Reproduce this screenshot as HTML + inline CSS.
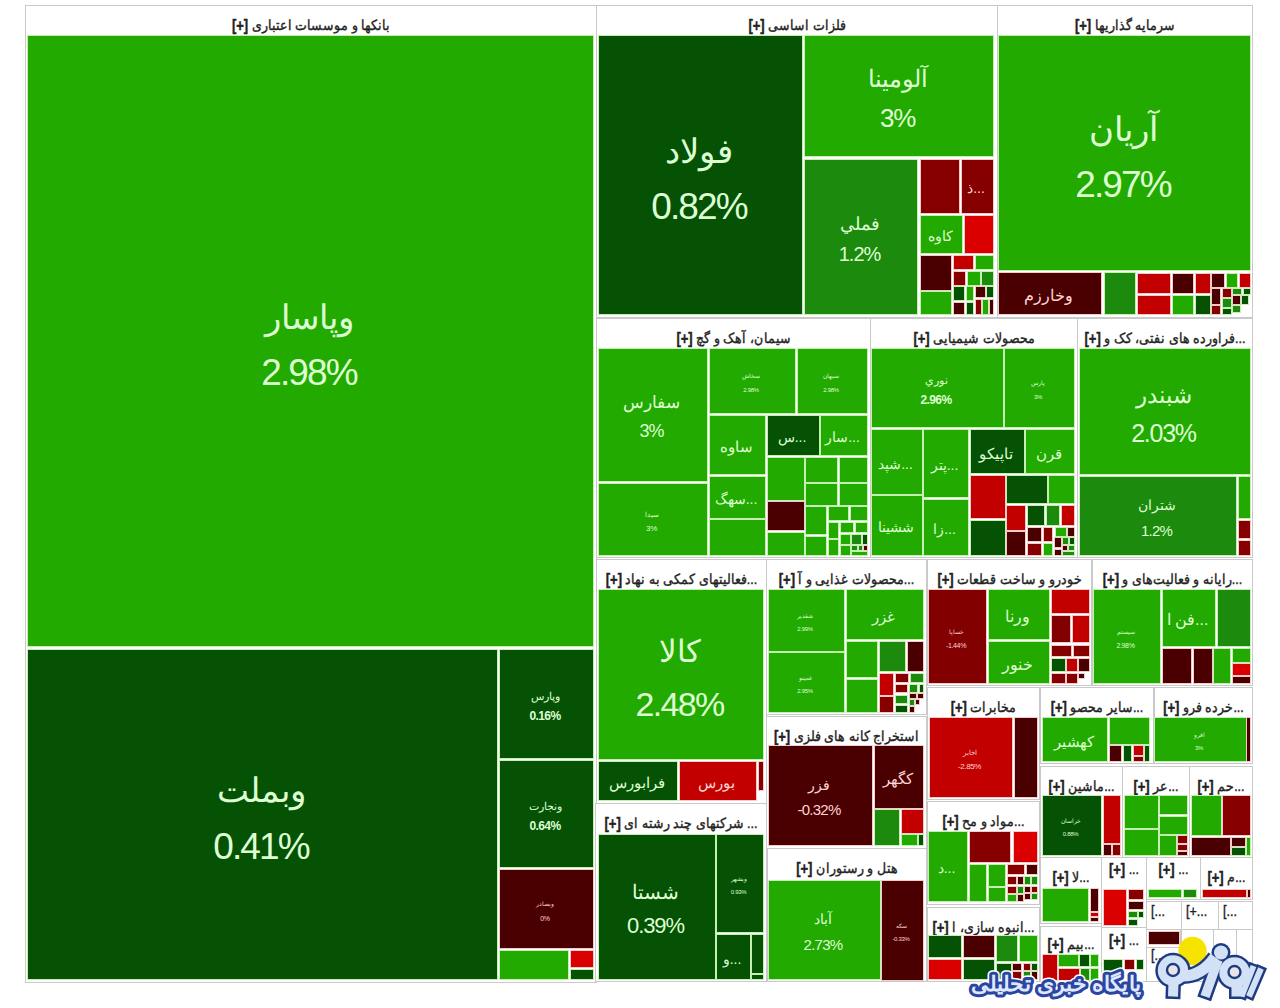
<!DOCTYPE html>
<html><head><meta charset="utf-8"><title>Market Map</title>
<style>
html,body{margin:0;padding:0;background:#fff;}
body{width:1280px;height:1008px;position:relative;overflow:hidden;font-family:"Liberation Sans",sans-serif;}
.s{position:absolute;box-sizing:border-box;border:1px solid #c9c9c9;background:#fff;}
.h{position:absolute;left:0;right:0;top:0;height:30px;display:flex;align-items:flex-end;justify-content:center;white-space:nowrap;overflow:hidden;font-size:12px;font-weight:normal;color:#222;direction:rtl;}
.h i{font-style:normal;display:block;line-height:14px;padding-bottom:2px;font-size:12.5px;transform:scaleY(1.12);transform-origin:50% 100%;-webkit-text-stroke:0.35px #222;}
.h b{display:inline-block;transform:scaleY(1.12);font-size:13px;}
.h b{font-weight:bold;direction:ltr;unicode-bidi:isolate;}
.c{position:absolute;overflow:hidden;white-space:nowrap;}
.c span{position:absolute;left:-20px;right:-20px;text-align:center;line-height:1;}
.c .p{letter-spacing:-0.05em;}
</style></head><body>

<div class="s" style="left:25px;top:5px;width:572px;height:978px"><div class="h" style=""><i>بانکها و موسسات اعتباری <b>[+]</b></i></div></div>
<div class="s" style="left:596px;top:5px;width:402px;height:313px"><div class="h" style=""><i>فلزات اساسی <b>[+]</b></i></div></div>
<div class="s" style="left:997px;top:5px;width:256px;height:313px"><div class="h" style=""><i>سرمایه گذاریها <b>[+]</b></i></div></div>
<div class="s" style="left:596px;top:318px;width:275px;height:240px"><div class="h" style=""><i>سیمان، آهک و گچ <b>[+]</b></i></div></div>
<div class="s" style="left:870px;top:318px;width:208px;height:240px"><div class="h" style=""><i>محصولات شیمیایی <b>[+]</b></i></div></div>
<div class="s" style="left:1077px;top:318px;width:176px;height:240px"><div class="h" style=""><i>...فراورده های نفتی، کک و <b>[+]</b></i></div></div>
<div class="s" style="left:596px;top:559px;width:171px;height:245px"><div class="h" style=""><i>...فعالیتهای کمکی به نهاد <b>[+]</b></i></div></div>
<div class="s" style="left:766px;top:559px;width:161px;height:156px"><div class="h" style=""><i>...محصولات غذایی و آ <b>[+]</b></i></div></div>
<div class="s" style="left:927px;top:559px;width:165px;height:127px"><div class="h" style=""><i>خودرو و ساخت قطعات <b>[+]</b></i></div></div>
<div class="s" style="left:1092px;top:559px;width:161px;height:127px"><div class="h" style=""><i>...رایانه و فعالیت‌های و <b>[+]</b></i></div></div>
<div class="s" style="left:927px;top:687px;width:113px;height:113px"><div class="h" style=""><i>مخابرات <b>[+]</b></i></div></div>
<div class="s" style="left:1040px;top:687px;width:114px;height:77px"><div class="h" style=""><i>...سایر محصو <b>[+]</b></i></div></div>
<div class="s" style="left:1154px;top:687px;width:99px;height:77px"><div class="h" style=""><i>...خرده فرو <b>[+]</b></i></div></div>
<div class="s" style="left:766px;top:716px;width:161px;height:133px"><div class="h" style=""><i>استخراج کانه های فلزی <b>[+]</b></i></div></div>
<div class="s" style="left:595px;top:803px;width:172px;height:179px"><div class="h" style=""><i>... شرکتهای چند رشته ای <b>[+]</b></i></div></div>
<div class="s" style="left:767px;top:848px;width:160px;height:134px"><div class="h" style=""><i>هتل و رستوران <b>[+]</b></i></div></div>
<div class="s" style="left:927px;top:801px;width:113px;height:104px"><div class="h" style=""><i>...مواد و مح <b>[+]</b></i></div></div>
<div class="s" style="left:1040px;top:766px;width:83px;height:92px"><div class="h" style=""><i>...ماشین <b>[+]</b></i></div></div>
<div class="s" style="left:1122px;top:766px;width:68px;height:92px"><div class="h" style=""><i>...عر <b>[+]</b></i></div></div>
<div class="s" style="left:1189px;top:766px;width:64px;height:92px"><div class="h" style=""><i>...حم <b>[+]</b></i></div></div>
<div class="s" style="left:927px;top:907px;width:113px;height:75px"><div class="h" style=""><i>...انبوه سازی، ا <b>[+]</b></i></div></div>
<div class="s" style="left:1040px;top:857px;width:62px;height:67px"><div class="h" style=""><i>...لا <b>[+]</b></i></div></div>
<div class="s" style="left:1101px;top:857px;width:46px;height:71px"><div class="h" style="top:-8px;"><i>... <b>[+]</b></i></div></div>
<div class="s" style="left:1146px;top:857px;width:55px;height:43px"><div class="h" style="top:-8px;"><i>... <b>[+]</b></i></div></div>
<div class="s" style="left:1200px;top:857px;width:53px;height:43px"><div class="h" style=""><i>...م <b>[+]</b></i></div></div>
<div class="s" style="left:1040px;top:926px;width:62px;height:56px"><div class="h" style="top:-2px;"><i>...بیم <b>[+]</b></i></div></div>
<div class="s" style="left:1101px;top:927px;width:46px;height:55px"><div class="h" style="top:-7px;"><i>... <b>[+]</b></i></div></div>
<div class="s" style="left:1146px;top:901px;width:36px;height:29px"><div class="h" style="top:-10px;direction:ltr;justify-content:flex-start;padding-left:4px"><i>[...</i></div></div>
<div class="s" style="left:1181px;top:901px;width:38px;height:29px"><div class="h" style="top:-10px;direction:ltr;justify-content:flex-start;padding-left:4px"><i>[+...</i></div></div>
<div class="s" style="left:1218px;top:901px;width:35px;height:29px"><div class="h" style="top:-10px;direction:ltr;justify-content:flex-start;padding-left:4px"><i>[...</i></div></div>
<div class="s" style="left:1146px;top:929px;width:35px;height:19px"></div>
<div class="s" style="left:1146px;top:947px;width:35px;height:35px"><div class="h" style="top:-12px;direction:ltr;justify-content:flex-start;padding-left:4px"><i>[...</i></div></div>
<div class="s" style="left:1181px;top:929px;width:33px;height:53px"></div>
<div class="s" style="left:1213px;top:929px;width:24px;height:53px"></div>
<div class="s" style="left:1236px;top:929px;width:17px;height:53px"></div>
<div class="c" style="left:28px;top:36px;width:565px;height:610px;background:#22aa00;color:#ddffd2;box-shadow:0 0 0 1px #c4f0b4;"><span class="n" style="font-size:34.0px;top:263.6px;left:-23px">وپاسار</span><span class="p" style="font-size:37px;top:318.3px;left:-23px">2.98%</span></div>
<div class="c" style="left:28px;top:650px;width:469px;height:329px;background:#055205;color:#ddffd2;box-shadow:0 0 0 1px #c4f0b4;"><span class="n" style="font-size:34.0px;top:123.1px;left:-23px">وبملت</span><span class="p" style="font-size:37px;top:177.8px;left:-23px">0.41%</span></div>
<div class="c" style="left:500px;top:650px;width:93px;height:108px;background:#055205;color:#ddffd2;box-shadow:0 0 0 1px #c4f0b4;"><span class="n" style="font-size:11.0px;top:40.6px;left:-23px">وپارس</span><span class="p" style="font-size:12px;top:60.3px;left:-23px;font-weight:bold">0.16%</span></div>
<div class="c" style="left:500px;top:761px;width:93px;height:106px;background:#055205;color:#ddffd2;box-shadow:0 0 0 1px #c4f0b4;"><span class="n" style="font-size:11.0px;top:39.6px;left:-23px">ونجارت</span><span class="p" style="font-size:12px;top:59.3px;left:-23px;font-weight:bold">0.64%</span></div>
<div class="c" style="left:500px;top:870px;width:93px;height:78px;background:#4a0000;color:#ffd4d4;box-shadow:0 0 0 1px #f4caca;"><span class="n" style="font-size:6.4px;top:31.2px;left:-23px">وبصادر</span><span class="p" style="font-size:7px;top:44.8px;left:-23px">0%</span></div>
<div class="c" style="left:500px;top:951px;width:68px;height:28px;background:#22aa00;color:#ddffd2;box-shadow:0 0 0 1px #c4f0b4;"></div>
<div class="c" style="left:571px;top:951px;width:22px;height:16px;background:#da0000;color:#ffd4d4;box-shadow:0 0 0 1px #f4caca;"></div>
<div class="c" style="left:571px;top:970px;width:22px;height:9px;background:#055205;color:#ddffd2;box-shadow:0 0 0 1px #c4f0b4;"></div>
<div class="c" style="left:599px;top:36px;width:203px;height:278px;background:#055205;color:#ddffd2;box-shadow:0 0 0 1px #c4f0b4;"><span class="n" style="font-size:34.0px;top:97.6px;left:-23px">فولاد</span><span class="p" style="font-size:37px;top:152.3px;left:-23px">0.82%</span></div>
<div class="c" style="left:805px;top:36px;width:188px;height:120px;background:#22aa00;color:#ddffd2;box-shadow:0 0 0 1px #c4f0b4;"><span class="n" style="font-size:23.9px;top:30.9px;left:-23px">آلومینا</span><span class="p" style="font-size:26px;top:69.4px;left:-23px">3%</span></div>
<div class="c" style="left:805px;top:160px;width:112px;height:154px;background:#1c8a0c;color:#ddffd2;box-shadow:0 0 0 1px #c4f0b4;"><span class="n" style="font-size:18.4px;top:54.6px;left:-23px">فملي</span><span class="p" style="font-size:20px;top:84.2px;left:-23px">1.2%</span></div>
<div class="c" style="left:921px;top:160px;width:38px;height:53px;background:#860000;color:#ffd4d4;box-shadow:0 0 0 1px #f4caca;"></div>
<div class="c" style="left:962px;top:160px;width:31px;height:53px;background:#860000;color:#ffd4d4;box-shadow:0 0 0 1px #f4caca;"><span class="n" style="font-size:14.0px;top:21.3px;left:-23px">ذ...</span></div>
<div class="c" style="left:921px;top:216px;width:41px;height:37px;background:#22aa00;color:#ddffd2;box-shadow:0 0 0 1px #c4f0b4;"><span class="n" style="font-size:14.0px;top:13.3px;left:-23px">کاوه</span></div>
<div class="c" style="left:965px;top:216px;width:28px;height:37px;background:#da0000;color:#ffd4d4;box-shadow:0 0 0 1px #f4caca;"></div>
<div class="c" style="left:921px;top:256px;width:30px;height:34px;background:#4a0000;color:#ffd4d4;box-shadow:0 0 0 1px #f4caca;"></div>
<div class="c" style="left:921px;top:292px;width:30px;height:22px;background:#22aa00;color:#ddffd2;box-shadow:0 0 0 1px #c4f0b4;"></div>
<div class="c" style="left:954px;top:256px;width:19px;height:13px;background:#c20000;color:#ffd4d4;box-shadow:0 0 0 1px #f4caca;"></div>
<div class="c" style="left:976px;top:256px;width:17px;height:13px;background:#22aa00;color:#ddffd2;box-shadow:0 0 0 1px #c4f0b4;"></div>
<div class="c" style="left:954px;top:272px;width:11px;height:13px;background:#860000;color:#ffd4d4;box-shadow:0 0 0 1px #f4caca;"></div>
<div class="c" style="left:968px;top:272px;width:12px;height:13px;background:#22aa00;color:#ddffd2;box-shadow:0 0 0 1px #c4f0b4;"></div>
<div class="c" style="left:982px;top:272px;width:11px;height:13px;background:#1c8a0c;color:#ddffd2;box-shadow:0 0 0 1px #c4f0b4;"></div>
<div class="c" style="left:954px;top:287px;width:10px;height:13px;background:#055205;color:#ddffd2;box-shadow:0 0 0 1px #c4f0b4;"></div>
<div class="c" style="left:967px;top:287px;width:6px;height:13px;background:#22aa00;color:#ddffd2;box-shadow:0 0 0 1px #c4f0b4;"></div>
<div class="c" style="left:976px;top:287px;width:9px;height:10px;background:#4a0000;color:#ffd4d4;box-shadow:0 0 0 1px #f4caca;"></div>
<div class="c" style="left:987px;top:287px;width:6px;height:10px;background:#055205;color:#ddffd2;box-shadow:0 0 0 1px #c4f0b4;"></div>
<div class="c" style="left:954px;top:303px;width:10px;height:11px;background:#4a0000;color:#ffd4d4;box-shadow:0 0 0 1px #f4caca;"></div>
<div class="c" style="left:967px;top:303px;width:6px;height:11px;background:#055205;color:#ddffd2;box-shadow:0 0 0 1px #c4f0b4;"></div>
<div class="c" style="left:976px;top:300px;width:5px;height:14px;background:#860000;color:#ffd4d4;box-shadow:0 0 0 1px #f4caca;"></div>
<div class="c" style="left:983px;top:300px;width:5px;height:14px;background:#22aa00;color:#ddffd2;box-shadow:0 0 0 1px #c4f0b4;"></div>
<div class="c" style="left:990px;top:300px;width:3px;height:14px;background:#4a0000;color:#ffd4d4;box-shadow:0 0 0 1px #f4caca;"></div>
<div class="c" style="left:999px;top:36px;width:251px;height:234px;background:#22aa00;color:#ddffd2;box-shadow:0 0 0 1px #c4f0b4;"><span class="n" style="font-size:34.0px;top:75.6px;left:-23px">آریان</span><span class="p" style="font-size:37px;top:130.3px;left:-23px">2.97%</span></div>
<div class="c" style="left:999px;top:273px;width:102px;height:41px;background:#4a0000;color:#ffd4d4;box-shadow:0 0 0 1px #f4caca;"><span class="n" style="font-size:16.0px;top:14.6px;left:-23px">وخارزم</span></div>
<div class="c" style="left:1105px;top:273px;width:30px;height:41px;background:#1c8a0c;color:#ddffd2;box-shadow:0 0 0 1px #c4f0b4;"></div>
<div class="c" style="left:1138px;top:274px;width:32px;height:19px;background:#c20000;color:#ffd4d4;box-shadow:0 0 0 1px #f4caca;"></div>
<div class="c" style="left:1138px;top:296px;width:32px;height:18px;background:#c20000;color:#ffd4d4;box-shadow:0 0 0 1px #f4caca;"></div>
<div class="c" style="left:1173px;top:274px;width:20px;height:19px;background:#4a0000;color:#ffd4d4;box-shadow:0 0 0 1px #f4caca;"></div>
<div class="c" style="left:1173px;top:296px;width:20px;height:18px;background:#22aa00;color:#ddffd2;box-shadow:0 0 0 1px #c4f0b4;"></div>
<div class="c" style="left:1196px;top:274px;width:14px;height:19px;background:#c20000;color:#ffd4d4;box-shadow:0 0 0 1px #f4caca;"></div>
<div class="c" style="left:1196px;top:296px;width:14px;height:18px;background:#055205;color:#ddffd2;box-shadow:0 0 0 1px #c4f0b4;"></div>
<div class="c" style="left:1212px;top:274px;width:12px;height:13px;background:#4a0000;color:#ffd4d4;box-shadow:0 0 0 1px #f4caca;"></div>
<div class="c" style="left:1227px;top:274px;width:10px;height:13px;background:#22aa00;color:#ddffd2;box-shadow:0 0 0 1px #c4f0b4;"></div>
<div class="c" style="left:1240px;top:274px;width:10px;height:13px;background:#c20000;color:#ffd4d4;box-shadow:0 0 0 1px #f4caca;"></div>
<div class="c" style="left:1212px;top:289px;width:8px;height:15px;background:#4a0000;color:#ffd4d4;box-shadow:0 0 0 1px #f4caca;"></div>
<div class="c" style="left:1212px;top:306px;width:8px;height:8px;background:#860000;color:#ffd4d4;box-shadow:0 0 0 1px #f4caca;"></div>
<div class="c" style="left:1223px;top:289px;width:8px;height:8px;background:#860000;color:#ffd4d4;box-shadow:0 0 0 1px #f4caca;"></div>
<div class="c" style="left:1233px;top:289px;width:8px;height:5px;background:#1c8a0c;color:#ddffd2;box-shadow:0 0 0 1px #c4f0b4;"></div>
<div class="c" style="left:1244px;top:289px;width:6px;height:5px;background:#055205;color:#ddffd2;box-shadow:0 0 0 1px #c4f0b4;"></div>
<div class="c" style="left:1223px;top:299px;width:8px;height:8px;background:#1c8a0c;color:#ddffd2;box-shadow:0 0 0 1px #c4f0b4;"></div>
<div class="c" style="left:1223px;top:309px;width:8px;height:5px;background:#055205;color:#ddffd2;box-shadow:0 0 0 1px #c4f0b4;"></div>
<div class="c" style="left:1233px;top:296px;width:7px;height:8px;background:#4a0000;color:#ffd4d4;box-shadow:0 0 0 1px #f4caca;"></div>
<div class="c" style="left:1242px;top:296px;width:6px;height:8px;background:#055205;color:#ddffd2;box-shadow:0 0 0 1px #c4f0b4;"></div>
<div class="c" style="left:1233px;top:306px;width:7px;height:6px;background:#1c8a0c;color:#ddffd2;box-shadow:0 0 0 1px #c4f0b4;"></div>
<div class="c" style="left:599px;top:349px;width:108px;height:132px;background:#22aa00;color:#ddffd2;box-shadow:0 0 0 1px #c4f0b4;"><span class="n" style="font-size:16.6px;top:45.8px;left:-23px">سفارس</span><span class="p" style="font-size:18px;top:73.0px;left:-23px">3%</span></div>
<div class="c" style="left:599px;top:484px;width:108px;height:71px;background:#22aa00;color:#ddffd2;box-shadow:0 0 0 1px #c4f0b4;"><span class="n" style="font-size:7.4px;top:26.5px;left:-23px">سیدا</span><span class="p" style="font-size:8px;top:41.4px;left:-23px">3%</span></div>
<div class="c" style="left:710px;top:349px;width:85px;height:64px;background:#22aa00;color:#ddffd2;box-shadow:0 0 0 1px #c4f0b4;"><span class="n" style="font-size:5.5px;top:25.3px;left:-23px">سخاش</span><span class="p" style="font-size:6px;top:37.7px;left:-23px">2.98%</span></div>
<div class="c" style="left:798px;top:349px;width:69px;height:64px;background:#22aa00;color:#ddffd2;box-shadow:0 0 0 1px #c4f0b4;"><span class="n" style="font-size:5.5px;top:25.3px;left:-23px">سبهان</span><span class="p" style="font-size:6px;top:37.7px;left:-23px">2.98%</span></div>
<div class="c" style="left:710px;top:416px;width:55px;height:58px;background:#22aa00;color:#ddffd2;box-shadow:0 0 0 1px #c4f0b4;"><span class="n" style="font-size:15.0px;top:23.4px;left:-23px">ساوه</span></div>
<div class="c" style="left:710px;top:477px;width:55px;height:41px;background:#22aa00;color:#ddffd2;box-shadow:0 0 0 1px #c4f0b4;"><span class="n" style="font-size:14.0px;top:15.3px;left:-23px">سهگ...</span></div>
<div class="c" style="left:710px;top:520px;width:55px;height:35px;background:#22aa00;color:#ddffd2;box-shadow:0 0 0 1px #c4f0b4;"></div>
<div class="c" style="left:768px;top:416px;width:51px;height:39px;background:#055205;color:#ddffd2;box-shadow:0 0 0 1px #c4f0b4;"><span class="n" style="font-size:14.0px;top:14.3px;left:-23px">س...</span></div>
<div class="c" style="left:821px;top:416px;width:46px;height:39px;background:#22aa00;color:#ddffd2;box-shadow:0 0 0 1px #c4f0b4;"><span class="n" style="font-size:14.0px;top:14.3px;left:-23px">سار...</span></div>
<div class="c" style="left:768px;top:458px;width:36px;height:42px;background:#22aa00;color:#ddffd2;box-shadow:0 0 0 1px #c4f0b4;"></div>
<div class="c" style="left:768px;top:502px;width:36px;height:28px;background:#4a0000;color:#ffd4d4;box-shadow:0 0 0 1px #f4caca;"></div>
<div class="c" style="left:768px;top:533px;width:36px;height:22px;background:#22aa00;color:#ddffd2;box-shadow:0 0 0 1px #c4f0b4;"></div>
<div class="c" style="left:806px;top:458px;width:31px;height:24px;background:#22aa00;color:#ddffd2;box-shadow:0 0 0 1px #c4f0b4;"></div>
<div class="c" style="left:840px;top:458px;width:27px;height:24px;background:#22aa00;color:#ddffd2;box-shadow:0 0 0 1px #c4f0b4;"></div>
<div class="c" style="left:806px;top:484px;width:31px;height:21px;background:#22aa00;color:#ddffd2;box-shadow:0 0 0 1px #c4f0b4;"></div>
<div class="c" style="left:840px;top:484px;width:27px;height:21px;background:#22aa00;color:#ddffd2;box-shadow:0 0 0 1px #c4f0b4;"></div>
<div class="c" style="left:806px;top:507px;width:20px;height:27px;background:#22aa00;color:#ddffd2;box-shadow:0 0 0 1px #c4f0b4;"></div>
<div class="c" style="left:806px;top:537px;width:20px;height:18px;background:#22aa00;color:#ddffd2;box-shadow:0 0 0 1px #c4f0b4;"></div>
<div class="c" style="left:829px;top:507px;width:19px;height:13px;background:#22aa00;color:#ddffd2;box-shadow:0 0 0 1px #c4f0b4;"></div>
<div class="c" style="left:851px;top:507px;width:16px;height:13px;background:#22aa00;color:#ddffd2;box-shadow:0 0 0 1px #c4f0b4;"></div>
<div class="c" style="left:829px;top:523px;width:9px;height:15px;background:#22aa00;color:#ddffd2;box-shadow:0 0 0 1px #c4f0b4;"></div>
<div class="c" style="left:829px;top:540px;width:9px;height:15px;background:#22aa00;color:#ddffd2;box-shadow:0 0 0 1px #c4f0b4;"></div>
<div class="c" style="left:841px;top:523px;width:12px;height:9px;background:#22aa00;color:#ddffd2;box-shadow:0 0 0 1px #c4f0b4;"></div>
<div class="c" style="left:856px;top:523px;width:11px;height:9px;background:#22aa00;color:#ddffd2;box-shadow:0 0 0 1px #c4f0b4;"></div>
<div class="c" style="left:841px;top:535px;width:9px;height:9px;background:#22aa00;color:#ddffd2;box-shadow:0 0 0 1px #c4f0b4;"></div>
<div class="c" style="left:852px;top:535px;width:9px;height:9px;background:#1c8a0c;color:#ddffd2;box-shadow:0 0 0 1px #c4f0b4;"></div>
<div class="c" style="left:863px;top:535px;width:4px;height:9px;background:#055205;color:#ddffd2;box-shadow:0 0 0 1px #c4f0b4;"></div>
<div class="c" style="left:841px;top:546px;width:9px;height:9px;background:#22aa00;color:#ddffd2;box-shadow:0 0 0 1px #c4f0b4;"></div>
<div class="c" style="left:852px;top:546px;width:5px;height:4px;background:#1c8a0c;color:#ddffd2;box-shadow:0 0 0 1px #c4f0b4;"></div>
<div class="c" style="left:859px;top:546px;width:3px;height:4px;background:#1c8a0c;color:#ddffd2;box-shadow:0 0 0 1px #c4f0b4;"></div>
<div class="c" style="left:864px;top:546px;width:3px;height:4px;background:#4a0000;color:#ffd4d4;box-shadow:0 0 0 1px #f4caca;"></div>
<div class="c" style="left:852px;top:552px;width:15px;height:3px;background:#22aa00;color:#ddffd2;box-shadow:0 0 0 1px #c4f0b4;"></div>
<div class="c" style="left:872px;top:349px;width:131px;height:78px;background:#22aa00;color:#ddffd2;box-shadow:0 0 0 1px #c4f0b4;"><span class="n" style="font-size:11.0px;top:25.6px;left:-23px">نوري</span><span class="p" style="font-size:12px;top:45.3px;left:-23px;font-weight:bold">2.96%</span></div>
<div class="c" style="left:1005px;top:349px;width:69px;height:78px;background:#22aa00;color:#ddffd2;box-shadow:0 0 0 1px #c4f0b4;"><span class="n" style="font-size:5.5px;top:32.3px;left:-23px">پارس</span><span class="p" style="font-size:6px;top:44.7px;left:-23px">3%</span></div>
<div class="c" style="left:872px;top:430px;width:50px;height:64px;background:#22aa00;color:#ddffd2;box-shadow:0 0 0 1px #c4f0b4;"><span class="n" style="font-size:14.0px;top:26.8px;left:-23px">شپد...</span></div>
<div class="c" style="left:872px;top:496px;width:50px;height:59px;background:#22aa00;color:#ddffd2;box-shadow:0 0 0 1px #c4f0b4;"><span class="n" style="font-size:14.0px;top:24.3px;left:-23px">ششینا</span></div>
<div class="c" style="left:924px;top:430px;width:44px;height:67px;background:#22aa00;color:#ddffd2;box-shadow:0 0 0 1px #c4f0b4;"><span class="n" style="font-size:14.0px;top:28.3px;left:-23px">پتر...</span></div>
<div class="c" style="left:924px;top:500px;width:44px;height:55px;background:#22aa00;color:#ddffd2;box-shadow:0 0 0 1px #c4f0b4;"><span class="n" style="font-size:14.0px;top:22.3px;left:-23px">زا...</span></div>
<div class="c" style="left:971px;top:430px;width:53px;height:43px;background:#055205;color:#ddffd2;box-shadow:0 0 0 1px #c4f0b4;"><span class="n" style="font-size:15.0px;top:15.9px;left:-23px">تاپیکو</span></div>
<div class="c" style="left:1026px;top:430px;width:48px;height:43px;background:#22aa00;color:#ddffd2;box-shadow:0 0 0 1px #c4f0b4;"><span class="n" style="font-size:15.0px;top:15.9px;left:-23px">قرن</span></div>
<div class="c" style="left:971px;top:476px;width:34px;height:42px;background:#c20000;color:#ffd4d4;box-shadow:0 0 0 1px #f4caca;"></div>
<div class="c" style="left:971px;top:521px;width:34px;height:34px;background:#055205;color:#ddffd2;box-shadow:0 0 0 1px #c4f0b4;"></div>
<div class="c" style="left:1007px;top:476px;width:40px;height:27px;background:#055205;color:#ddffd2;box-shadow:0 0 0 1px #c4f0b4;"></div>
<div class="c" style="left:1049px;top:476px;width:25px;height:27px;background:#22aa00;color:#ddffd2;box-shadow:0 0 0 1px #c4f0b4;"></div>
<div class="c" style="left:1007px;top:506px;width:18px;height:24px;background:#c20000;color:#ffd4d4;box-shadow:0 0 0 1px #f4caca;"></div>
<div class="c" style="left:1007px;top:532px;width:18px;height:23px;background:#4a0000;color:#ffd4d4;box-shadow:0 0 0 1px #f4caca;"></div>
<div class="c" style="left:1028px;top:506px;width:16px;height:19px;background:#055205;color:#ddffd2;box-shadow:0 0 0 1px #c4f0b4;"></div>
<div class="c" style="left:1047px;top:506px;width:12px;height:19px;background:#1c8a0c;color:#ddffd2;box-shadow:0 0 0 1px #c4f0b4;"></div>
<div class="c" style="left:1062px;top:506px;width:12px;height:19px;background:#c20000;color:#ffd4d4;box-shadow:0 0 0 1px #f4caca;"></div>
<div class="c" style="left:1028px;top:528px;width:13px;height:13px;background:#4a0000;color:#ffd4d4;box-shadow:0 0 0 1px #f4caca;"></div>
<div class="c" style="left:1044px;top:528px;width:8px;height:13px;background:#860000;color:#ffd4d4;box-shadow:0 0 0 1px #f4caca;"></div>
<div class="c" style="left:1056px;top:528px;width:10px;height:8px;background:#22aa00;color:#ddffd2;box-shadow:0 0 0 1px #c4f0b4;"></div>
<div class="c" style="left:1068px;top:528px;width:6px;height:8px;background:#4a0000;color:#ffd4d4;box-shadow:0 0 0 1px #f4caca;"></div>
<div class="c" style="left:1028px;top:544px;width:13px;height:11px;background:#860000;color:#ffd4d4;box-shadow:0 0 0 1px #f4caca;"></div>
<div class="c" style="left:1044px;top:544px;width:8px;height:11px;background:#22aa00;color:#ddffd2;box-shadow:0 0 0 1px #c4f0b4;"></div>
<div class="c" style="left:1055px;top:538px;width:6px;height:9px;background:#4a0000;color:#ffd4d4;box-shadow:0 0 0 1px #f4caca;"></div>
<div class="c" style="left:1055px;top:550px;width:6px;height:5px;background:#4a0000;color:#ffd4d4;box-shadow:0 0 0 1px #f4caca;"></div>
<div class="c" style="left:1063px;top:538px;width:5px;height:6px;background:#1c8a0c;color:#ddffd2;box-shadow:0 0 0 1px #c4f0b4;"></div>
<div class="c" style="left:1070px;top:538px;width:4px;height:6px;background:#055205;color:#ddffd2;box-shadow:0 0 0 1px #c4f0b4;"></div>
<div class="c" style="left:1063px;top:546px;width:4px;height:4px;background:#4a0000;color:#ffd4d4;box-shadow:0 0 0 1px #f4caca;"></div>
<div class="c" style="left:1069px;top:546px;width:5px;height:4px;background:#1c8a0c;color:#ddffd2;box-shadow:0 0 0 1px #c4f0b4;"></div>
<div class="c" style="left:1063px;top:552px;width:11px;height:3px;background:#1c8a0c;color:#ddffd2;box-shadow:0 0 0 1px #c4f0b4;"></div>
<div class="c" style="left:1080px;top:349px;width:170px;height:125px;background:#22aa00;color:#ddffd2;box-shadow:0 0 0 1px #c4f0b4;"><span class="n" style="font-size:23.0px;top:34.5px;left:-23px">شبندر</span><span class="p" style="font-size:25px;top:71.5px;left:-23px">2.03%</span></div>
<div class="c" style="left:1080px;top:477px;width:156px;height:78px;background:#1c8a0c;color:#ddffd2;box-shadow:0 0 0 1px #c4f0b4;"><span class="n" style="font-size:13.8px;top:22.2px;left:-23px">شتران</span><span class="p" style="font-size:15px;top:45.6px;left:-23px">1.2%</span></div>
<div class="c" style="left:1239px;top:477px;width:11px;height:41px;background:#22aa00;color:#ddffd2;box-shadow:0 0 0 1px #c4f0b4;"></div>
<div class="c" style="left:1239px;top:521px;width:11px;height:17px;background:#860000;color:#ffd4d4;box-shadow:0 0 0 1px #f4caca;"></div>
<div class="c" style="left:1239px;top:541px;width:11px;height:14px;background:#860000;color:#ffd4d4;box-shadow:0 0 0 1px #f4caca;"></div>
<div class="c" style="left:599px;top:590px;width:164px;height:169px;background:#22aa00;color:#ddffd2;box-shadow:0 0 0 1px #c4f0b4;"><span class="n" style="font-size:31.3px;top:46.4px;left:-23px">کالا</span><span class="p" style="font-size:34px;top:96.7px;left:-23px">2.48%</span></div>
<div class="c" style="left:599px;top:762px;width:78px;height:38px;background:#055205;color:#ddffd2;box-shadow:0 0 0 1px #c4f0b4;"><span class="n" style="font-size:15.0px;top:13.4px;left:-23px">فرابورس</span></div>
<div class="c" style="left:680px;top:762px;width:76px;height:38px;background:#c20000;color:#ffd4d4;box-shadow:0 0 0 1px #f4caca;"><span class="n" style="font-size:15.0px;top:13.4px;left:-23px">بورس</span></div>
<div class="c" style="left:759px;top:762px;width:4px;height:28px;background:#860000;color:#ffd4d4;box-shadow:0 0 0 1px #f4caca;"></div>
<div class="c" style="left:769px;top:590px;width:75px;height:61px;background:#22aa00;color:#ddffd2;box-shadow:0 0 0 1px #c4f0b4;"><span class="n" style="font-size:5.5px;top:23.8px;left:-23px">شقدیر</span><span class="p" style="font-size:6px;top:36.2px;left:-23px">2.99%</span></div>
<div class="c" style="left:769px;top:653px;width:75px;height:59px;background:#22aa00;color:#ddffd2;box-shadow:0 0 0 1px #c4f0b4;"><span class="n" style="font-size:5.5px;top:22.8px;left:-23px">غمینو</span><span class="p" style="font-size:6px;top:35.2px;left:-23px">2.95%</span></div>
<div class="c" style="left:847px;top:590px;width:76px;height:49px;background:#22aa00;color:#ddffd2;box-shadow:0 0 0 1px #c4f0b4;"><span class="n" style="font-size:15.0px;top:18.9px;left:-23px">غزر</span></div>
<div class="c" style="left:847px;top:642px;width:30px;height:35px;background:#22aa00;color:#ddffd2;box-shadow:0 0 0 1px #c4f0b4;"></div>
<div class="c" style="left:847px;top:680px;width:30px;height:32px;background:#22aa00;color:#ddffd2;box-shadow:0 0 0 1px #c4f0b4;"></div>
<div class="c" style="left:880px;top:642px;width:25px;height:29px;background:#1c8a0c;color:#ddffd2;box-shadow:0 0 0 1px #c4f0b4;"></div>
<div class="c" style="left:908px;top:642px;width:15px;height:29px;background:#4a0000;color:#ffd4d4;box-shadow:0 0 0 1px #f4caca;"></div>
<div class="c" style="left:880px;top:674px;width:13px;height:21px;background:#c20000;color:#ffd4d4;box-shadow:0 0 0 1px #f4caca;"></div>
<div class="c" style="left:880px;top:697px;width:13px;height:15px;background:#860000;color:#ffd4d4;box-shadow:0 0 0 1px #f4caca;"></div>
<div class="c" style="left:896px;top:674px;width:12px;height:8px;background:#860000;color:#ffd4d4;box-shadow:0 0 0 1px #f4caca;"></div>
<div class="c" style="left:911px;top:674px;width:12px;height:8px;background:#1c8a0c;color:#ddffd2;box-shadow:0 0 0 1px #c4f0b4;"></div>
<div class="c" style="left:896px;top:685px;width:11px;height:7px;background:#860000;color:#ffd4d4;box-shadow:0 0 0 1px #f4caca;"></div>
<div class="c" style="left:910px;top:685px;width:7px;height:7px;background:#1c8a0c;color:#ddffd2;box-shadow:0 0 0 1px #c4f0b4;"></div>
<div class="c" style="left:920px;top:685px;width:3px;height:7px;background:#055205;color:#ddffd2;box-shadow:0 0 0 1px #c4f0b4;"></div>
<div class="c" style="left:896px;top:696px;width:11px;height:7px;background:#1c8a0c;color:#ddffd2;box-shadow:0 0 0 1px #c4f0b4;"></div>
<div class="c" style="left:896px;top:706px;width:11px;height:6px;background:#055205;color:#ddffd2;box-shadow:0 0 0 1px #c4f0b4;"></div>
<div class="c" style="left:910px;top:694px;width:6px;height:4px;background:#4a0000;color:#ffd4d4;box-shadow:0 0 0 1px #f4caca;"></div>
<div class="c" style="left:918px;top:694px;width:5px;height:4px;background:#4a0000;color:#ffd4d4;box-shadow:0 0 0 1px #f4caca;"></div>
<div class="c" style="left:910px;top:700px;width:4px;height:5px;background:#1c8a0c;color:#ddffd2;box-shadow:0 0 0 1px #c4f0b4;"></div>
<div class="c" style="left:916px;top:700px;width:3px;height:4px;background:#4a0000;color:#ffd4d4;box-shadow:0 0 0 1px #f4caca;"></div>
<div class="c" style="left:910px;top:707px;width:4px;height:5px;background:#4a0000;color:#ffd4d4;box-shadow:0 0 0 1px #f4caca;"></div>
<div class="c" style="left:769px;top:746px;width:103px;height:99px;background:#4a0000;color:#ffd4d4;box-shadow:0 0 0 1px #f4caca;"><span class="n" style="font-size:13.8px;top:32.7px;left:-23px">فزر</span><span class="p" style="font-size:15px;top:56.1px;left:-23px">-0.32%</span></div>
<div class="c" style="left:875px;top:746px;width:48px;height:62px;background:#4a0000;color:#ffd4d4;box-shadow:0 0 0 1px #f4caca;"><span class="n" style="font-size:15.0px;top:25.4px;left:-23px">کگهر</span></div>
<div class="c" style="left:875px;top:810px;width:24px;height:35px;background:#1c8a0c;color:#ddffd2;box-shadow:0 0 0 1px #c4f0b4;"></div>
<div class="c" style="left:902px;top:810px;width:21px;height:23px;background:#c20000;color:#ffd4d4;box-shadow:0 0 0 1px #f4caca;"></div>
<div class="c" style="left:902px;top:835px;width:15px;height:10px;background:#22aa00;color:#ddffd2;box-shadow:0 0 0 1px #c4f0b4;"></div>
<div class="c" style="left:919px;top:835px;width:4px;height:10px;background:#055205;color:#ddffd2;box-shadow:0 0 0 1px #c4f0b4;"></div>
<div class="c" style="left:929px;top:590px;width:57px;height:93px;background:#820000;color:#ffd4d4;box-shadow:0 0 0 1px #f4caca;"><span class="n" style="font-size:6.4px;top:38.7px;left:-23px">خساپا</span><span class="p" style="font-size:7px;top:52.3px;left:-23px">-1.44%</span></div>
<div class="c" style="left:989px;top:590px;width:60px;height:49px;background:#22aa00;color:#ddffd2;box-shadow:0 0 0 1px #c4f0b4;"><span class="n" style="font-size:16.0px;top:18.6px;left:-23px">ورنا</span></div>
<div class="c" style="left:989px;top:642px;width:60px;height:41px;background:#22aa00;color:#ddffd2;box-shadow:0 0 0 1px #c4f0b4;"><span class="n" style="font-size:16.0px;top:14.6px;left:-23px">خنور</span></div>
<div class="c" style="left:1052px;top:590px;width:37px;height:23px;background:#c20000;color:#ffd4d4;box-shadow:0 0 0 1px #f4caca;"></div>
<div class="c" style="left:1052px;top:616px;width:18px;height:26px;background:#820000;color:#ffd4d4;box-shadow:0 0 0 1px #f4caca;"></div>
<div class="c" style="left:1073px;top:616px;width:16px;height:26px;background:#c20000;color:#ffd4d4;box-shadow:0 0 0 1px #f4caca;"></div>
<div class="c" style="left:1052px;top:646px;width:19px;height:10px;background:#860000;color:#ffd4d4;box-shadow:0 0 0 1px #f4caca;"></div>
<div class="c" style="left:1074px;top:646px;width:15px;height:10px;background:#860000;color:#ffd4d4;box-shadow:0 0 0 1px #f4caca;"></div>
<div class="c" style="left:1052px;top:659px;width:13px;height:12px;background:#055205;color:#ddffd2;box-shadow:0 0 0 1px #c4f0b4;"></div>
<div class="c" style="left:1067px;top:659px;width:10px;height:12px;background:#c20000;color:#ffd4d4;box-shadow:0 0 0 1px #f4caca;"></div>
<div class="c" style="left:1079px;top:659px;width:10px;height:12px;background:#4a0000;color:#ffd4d4;box-shadow:0 0 0 1px #f4caca;"></div>
<div class="c" style="left:1052px;top:674px;width:13px;height:9px;background:#860000;color:#ffd4d4;box-shadow:0 0 0 1px #f4caca;"></div>
<div class="c" style="left:1067px;top:674px;width:10px;height:9px;background:#860000;color:#ffd4d4;box-shadow:0 0 0 1px #f4caca;"></div>
<div class="c" style="left:1079px;top:674px;width:5px;height:4px;background:#4a0000;color:#ffd4d4;box-shadow:0 0 0 1px #f4caca;"></div>
<div class="c" style="left:1094px;top:590px;width:66px;height:93px;background:#22aa00;color:#ddffd2;box-shadow:0 0 0 1px #c4f0b4;"><span class="n" style="font-size:6.4px;top:38.7px;left:-23px">سیستم</span><span class="p" style="font-size:7px;top:52.3px;left:-23px">2.98%</span></div>
<div class="c" style="left:1163px;top:590px;width:52px;height:56px;background:#22aa00;color:#ddffd2;box-shadow:0 0 0 1px #c4f0b4;"><span class="n" style="font-size:16.0px;top:22.1px;left:-23px">فن ا...</span></div>
<div class="c" style="left:1218px;top:590px;width:32px;height:56px;background:#1c8a0c;color:#ddffd2;box-shadow:0 0 0 1px #c4f0b4;"></div>
<div class="c" style="left:1163px;top:649px;width:28px;height:34px;background:#4a0000;color:#ffd4d4;box-shadow:0 0 0 1px #f4caca;"></div>
<div class="c" style="left:1194px;top:649px;width:18px;height:34px;background:#4a0000;color:#ffd4d4;box-shadow:0 0 0 1px #f4caca;"></div>
<div class="c" style="left:1214px;top:649px;width:16px;height:34px;background:#22aa00;color:#ddffd2;box-shadow:0 0 0 1px #c4f0b4;"></div>
<div class="c" style="left:1233px;top:649px;width:17px;height:13px;background:#22aa00;color:#ddffd2;box-shadow:0 0 0 1px #c4f0b4;"></div>
<div class="c" style="left:1233px;top:664px;width:17px;height:11px;background:#da0000;color:#ffd4d4;box-shadow:0 0 0 1px #f4caca;"></div>
<div class="c" style="left:1233px;top:677px;width:17px;height:6px;background:#4a0000;color:#ffd4d4;box-shadow:0 0 0 1px #f4caca;"></div>
<div class="c" style="left:930px;top:718px;width:82px;height:79px;background:#c20000;color:#ffd4d4;box-shadow:0 0 0 1px #f4caca;"><span class="n" style="font-size:7.4px;top:30.5px;left:-23px">اخابر</span><span class="p" style="font-size:8px;top:45.4px;left:-23px">-2.85%</span></div>
<div class="c" style="left:1015px;top:718px;width:22px;height:79px;background:#4a0000;color:#ffd4d4;box-shadow:0 0 0 1px #f4caca;"></div>
<div class="c" style="left:1043px;top:718px;width:64px;height:43px;background:#22aa00;color:#ddffd2;box-shadow:0 0 0 1px #c4f0b4;"><span class="n" style="font-size:15.0px;top:15.9px;left:-23px">کهشیر</span></div>
<div class="c" style="left:1110px;top:718px;width:39px;height:26px;background:#22aa00;color:#ddffd2;box-shadow:0 0 0 1px #c4f0b4;"></div>
<div class="c" style="left:1110px;top:746px;width:11px;height:15px;background:#4a0000;color:#ffd4d4;box-shadow:0 0 0 1px #f4caca;"></div>
<div class="c" style="left:1124px;top:746px;width:7px;height:15px;background:#055205;color:#ddffd2;box-shadow:0 0 0 1px #c4f0b4;"></div>
<div class="c" style="left:1134px;top:746px;width:9px;height:9px;background:#c20000;color:#ffd4d4;box-shadow:0 0 0 1px #f4caca;"></div>
<div class="c" style="left:1134px;top:757px;width:9px;height:4px;background:#860000;color:#ffd4d4;box-shadow:0 0 0 1px #f4caca;"></div>
<div class="c" style="left:1145px;top:746px;width:4px;height:15px;background:#055205;color:#ddffd2;box-shadow:0 0 0 1px #c4f0b4;"></div>
<div class="c" style="left:1155px;top:718px;width:91px;height:43px;background:#22aa00;color:#ddffd2;box-shadow:0 0 0 1px #c4f0b4;"><span class="n" style="font-size:5.5px;top:14.8px;left:-23px">افرو</span><span class="p" style="font-size:6px;top:27.2px;left:-23px">3%</span></div>
<div class="c" style="left:1247px;top:718px;width:3px;height:43px;background:#4a0000;color:#ffd4d4;box-shadow:0 0 0 1px #f4caca;"></div>
<div class="c" style="left:1043px;top:796px;width:58px;height:59px;background:#055205;color:#ddffd2;box-shadow:0 0 0 1px #c4f0b4;"><span class="n" style="font-size:5.5px;top:22.8px;left:-23px">خراسان</span><span class="p" style="font-size:6px;top:35.2px;left:-23px">0.88%</span></div>
<div class="c" style="left:1104px;top:796px;width:16px;height:47px;background:#c20000;color:#ffd4d4;box-shadow:0 0 0 1px #f4caca;"></div>
<div class="c" style="left:1104px;top:845px;width:7px;height:10px;background:#4a0000;color:#ffd4d4;box-shadow:0 0 0 1px #f4caca;"></div>
<div class="c" style="left:1113px;top:845px;width:7px;height:10px;background:#860000;color:#ffd4d4;box-shadow:0 0 0 1px #f4caca;"></div>
<div class="c" style="left:1125px;top:796px;width:33px;height:32px;background:#22aa00;color:#ddffd2;box-shadow:0 0 0 1px #c4f0b4;"></div>
<div class="c" style="left:1125px;top:830px;width:33px;height:25px;background:#22aa00;color:#ddffd2;box-shadow:0 0 0 1px #c4f0b4;"></div>
<div class="c" style="left:1160px;top:796px;width:27px;height:18px;background:#22aa00;color:#ddffd2;box-shadow:0 0 0 1px #c4f0b4;"></div>
<div class="c" style="left:1160px;top:817px;width:27px;height:17px;background:#22aa00;color:#ddffd2;box-shadow:0 0 0 1px #c4f0b4;"></div>
<div class="c" style="left:1160px;top:836px;width:16px;height:19px;background:#22aa00;color:#ddffd2;box-shadow:0 0 0 1px #c4f0b4;"></div>
<div class="c" style="left:1178px;top:836px;width:9px;height:7px;background:#860000;color:#ffd4d4;box-shadow:0 0 0 1px #f4caca;"></div>
<div class="c" style="left:1178px;top:845px;width:9px;height:5px;background:#860000;color:#ffd4d4;box-shadow:0 0 0 1px #f4caca;"></div>
<div class="c" style="left:1178px;top:852px;width:9px;height:3px;background:#4a0000;color:#ffd4d4;box-shadow:0 0 0 1px #f4caca;"></div>
<div class="c" style="left:1192px;top:796px;width:29px;height:39px;background:#22aa00;color:#ddffd2;box-shadow:0 0 0 1px #c4f0b4;"></div>
<div class="c" style="left:1223px;top:796px;width:27px;height:39px;background:#860000;color:#ffd4d4;box-shadow:0 0 0 1px #f4caca;"></div>
<div class="c" style="left:1192px;top:838px;width:38px;height:17px;background:#4a0000;color:#ffd4d4;box-shadow:0 0 0 1px #f4caca;"></div>
<div class="c" style="left:1232px;top:838px;width:13px;height:8px;background:#4a0000;color:#ffd4d4;box-shadow:0 0 0 1px #f4caca;"></div>
<div class="c" style="left:1232px;top:848px;width:13px;height:7px;background:#055205;color:#ddffd2;box-shadow:0 0 0 1px #c4f0b4;"></div>
<div class="c" style="left:1247px;top:838px;width:3px;height:17px;background:#22aa00;color:#ddffd2;box-shadow:0 0 0 1px #c4f0b4;"></div>
<div class="c" style="left:599px;top:835px;width:116px;height:144px;background:#055205;color:#ddffd2;box-shadow:0 0 0 1px #c4f0b4;"><span class="n" style="font-size:20.2px;top:47.4px;left:-23px">شستا</span><span class="p" style="font-size:22px;top:79.9px;left:-23px">0.39%</span></div>
<div class="c" style="left:717px;top:835px;width:46px;height:97px;background:#055205;color:#ddffd2;box-shadow:0 0 0 1px #c4f0b4;"><span class="n" style="font-size:5.5px;top:41.8px;left:-23px">وبشهر</span><span class="p" style="font-size:6px;top:54.2px;left:-23px">0.93%</span></div>
<div class="c" style="left:717px;top:935px;width:33px;height:44px;background:#055205;color:#ddffd2;box-shadow:0 0 0 1px #c4f0b4;"><span class="n" style="font-size:14.0px;top:16.8px;left:-23px">و...</span></div>
<div class="c" style="left:752px;top:935px;width:11px;height:38px;background:#055205;color:#ddffd2;box-shadow:0 0 0 1px #c4f0b4;"></div>
<div class="c" style="left:752px;top:975px;width:11px;height:4px;background:#055205;color:#ddffd2;box-shadow:0 0 0 1px #c4f0b4;"></div>
<div class="c" style="left:769px;top:881px;width:111px;height:98px;background:#22aa00;color:#ddffd2;box-shadow:0 0 0 1px #c4f0b4;"><span class="n" style="font-size:13.8px;top:32.2px;left:-23px">آباد</span><span class="p" style="font-size:15px;top:55.6px;left:-23px">2.73%</span></div>
<div class="c" style="left:882px;top:881px;width:41px;height:99px;background:#4a0000;color:#ffd4d4;box-shadow:0 0 0 1px #f4caca;"><span class="n" style="font-size:5.5px;top:42.8px;left:-23px">سکه</span><span class="p" style="font-size:6px;top:55.2px;left:-23px">-0.33%</span></div>
<div class="c" style="left:929px;top:832px;width:38px;height:69px;background:#22aa00;color:#ddffd2;box-shadow:0 0 0 1px #c4f0b4;"><span class="n" style="font-size:14.0px;top:29.3px;left:-23px">د...</span></div>
<div class="c" style="left:970px;top:832px;width:40px;height:30px;background:#860000;color:#ffd4d4;box-shadow:0 0 0 1px #f4caca;"></div>
<div class="c" style="left:1014px;top:832px;width:23px;height:30px;background:#da0000;color:#ffd4d4;box-shadow:0 0 0 1px #f4caca;"></div>
<div class="c" style="left:970px;top:865px;width:16px;height:36px;background:#22aa00;color:#ddffd2;box-shadow:0 0 0 1px #c4f0b4;"></div>
<div class="c" style="left:989px;top:865px;width:16px;height:21px;background:#22aa00;color:#ddffd2;box-shadow:0 0 0 1px #c4f0b4;"></div>
<div class="c" style="left:989px;top:888px;width:16px;height:13px;background:#22aa00;color:#ddffd2;box-shadow:0 0 0 1px #c4f0b4;"></div>
<div class="c" style="left:1008px;top:865px;width:16px;height:9px;background:#860000;color:#ffd4d4;box-shadow:0 0 0 1px #f4caca;"></div>
<div class="c" style="left:1027px;top:865px;width:10px;height:9px;background:#4a0000;color:#ffd4d4;box-shadow:0 0 0 1px #f4caca;"></div>
<div class="c" style="left:1008px;top:877px;width:8px;height:7px;background:#860000;color:#ffd4d4;box-shadow:0 0 0 1px #f4caca;"></div>
<div class="c" style="left:1018px;top:877px;width:5px;height:7px;background:#4a0000;color:#ffd4d4;box-shadow:0 0 0 1px #f4caca;"></div>
<div class="c" style="left:1025px;top:877px;width:5px;height:7px;background:#1c8a0c;color:#ddffd2;box-shadow:0 0 0 1px #c4f0b4;"></div>
<div class="c" style="left:1032px;top:877px;width:5px;height:7px;background:#1c8a0c;color:#ddffd2;box-shadow:0 0 0 1px #c4f0b4;"></div>
<div class="c" style="left:1008px;top:887px;width:8px;height:6px;background:#860000;color:#ffd4d4;box-shadow:0 0 0 1px #f4caca;"></div>
<div class="c" style="left:1018px;top:887px;width:5px;height:6px;background:#1c8a0c;color:#ddffd2;box-shadow:0 0 0 1px #c4f0b4;"></div>
<div class="c" style="left:1025px;top:887px;width:5px;height:5px;background:#4a0000;color:#ffd4d4;box-shadow:0 0 0 1px #f4caca;"></div>
<div class="c" style="left:1032px;top:887px;width:5px;height:5px;background:#860000;color:#ffd4d4;box-shadow:0 0 0 1px #f4caca;"></div>
<div class="c" style="left:1008px;top:895px;width:8px;height:6px;background:#22aa00;color:#ddffd2;box-shadow:0 0 0 1px #c4f0b4;"></div>
<div class="c" style="left:1018px;top:895px;width:5px;height:6px;background:#4a0000;color:#ffd4d4;box-shadow:0 0 0 1px #f4caca;"></div>
<div class="c" style="left:1025px;top:894px;width:5px;height:5px;background:#4a0000;color:#ffd4d4;box-shadow:0 0 0 1px #f4caca;"></div>
<div class="c" style="left:1032px;top:894px;width:5px;height:5px;background:#1c8a0c;color:#ddffd2;box-shadow:0 0 0 1px #c4f0b4;"></div>
<div class="c" style="left:929px;top:936px;width:32px;height:21px;background:#055205;color:#ddffd2;box-shadow:0 0 0 1px #c4f0b4;"></div>
<div class="c" style="left:929px;top:960px;width:32px;height:19px;background:#da0000;color:#ffd4d4;box-shadow:0 0 0 1px #f4caca;"></div>
<div class="c" style="left:964px;top:936px;width:30px;height:21px;background:#4a0000;color:#ffd4d4;box-shadow:0 0 0 1px #f4caca;"></div>
<div class="c" style="left:964px;top:960px;width:30px;height:19px;background:#055205;color:#ddffd2;box-shadow:0 0 0 1px #c4f0b4;"></div>
<div class="c" style="left:997px;top:936px;width:20px;height:25px;background:#1c8a0c;color:#ddffd2;box-shadow:0 0 0 1px #c4f0b4;"></div>
<div class="c" style="left:1020px;top:936px;width:17px;height:25px;background:#22aa00;color:#ddffd2;box-shadow:0 0 0 1px #c4f0b4;"></div>
<div class="c" style="left:997px;top:964px;width:14px;height:15px;background:#055205;color:#ddffd2;box-shadow:0 0 0 1px #c4f0b4;"></div>
<div class="c" style="left:1013px;top:964px;width:8px;height:6px;background:#4a0000;color:#ffd4d4;box-shadow:0 0 0 1px #f4caca;"></div>
<div class="c" style="left:1024px;top:964px;width:6px;height:6px;background:#860000;color:#ffd4d4;box-shadow:0 0 0 1px #f4caca;"></div>
<div class="c" style="left:1032px;top:964px;width:5px;height:6px;background:#055205;color:#ddffd2;box-shadow:0 0 0 1px #c4f0b4;"></div>
<div class="c" style="left:1013px;top:972px;width:8px;height:7px;background:#860000;color:#ffd4d4;box-shadow:0 0 0 1px #f4caca;"></div>
<div class="c" style="left:1024px;top:972px;width:6px;height:7px;background:#1c8a0c;color:#ddffd2;box-shadow:0 0 0 1px #c4f0b4;"></div>
<div class="c" style="left:1032px;top:972px;width:5px;height:7px;background:#4a0000;color:#ffd4d4;box-shadow:0 0 0 1px #f4caca;"></div>
<div class="c" style="left:1043px;top:889px;width:45px;height:32px;background:#22aa00;color:#ddffd2;box-shadow:0 0 0 1px #c4f0b4;"></div>
<div class="c" style="left:1091px;top:889px;width:7px;height:22px;background:#4a0000;color:#ffd4d4;box-shadow:0 0 0 1px #f4caca;"></div>
<div class="c" style="left:1091px;top:913px;width:7px;height:3px;background:#c20000;color:#ffd4d4;box-shadow:0 0 0 1px #f4caca;"></div>
<div class="c" style="left:1091px;top:918px;width:7px;height:3px;background:#4a0000;color:#ffd4d4;box-shadow:0 0 0 1px #f4caca;"></div>
<div class="c" style="left:1104px;top:890px;width:22px;height:35px;background:#da0000;color:#ffd4d4;box-shadow:0 0 0 1px #f4caca;"></div>
<div class="c" style="left:1129px;top:890px;width:14px;height:9px;background:#860000;color:#ffd4d4;box-shadow:0 0 0 1px #f4caca;"></div>
<div class="c" style="left:1129px;top:902px;width:14px;height:7px;background:#4a0000;color:#ffd4d4;box-shadow:0 0 0 1px #f4caca;"></div>
<div class="c" style="left:1129px;top:912px;width:8px;height:5px;background:#1c8a0c;color:#ddffd2;box-shadow:0 0 0 1px #c4f0b4;"></div>
<div class="c" style="left:1139px;top:912px;width:4px;height:5px;background:#055205;color:#ddffd2;box-shadow:0 0 0 1px #c4f0b4;"></div>
<div class="c" style="left:1129px;top:920px;width:8px;height:5px;background:#055205;color:#ddffd2;box-shadow:0 0 0 1px #c4f0b4;"></div>
<div class="c" style="left:1043px;top:955px;width:14px;height:25px;background:#c20000;color:#ffd4d4;box-shadow:0 0 0 1px #f4caca;"></div>
<div class="c" style="left:1059px;top:955px;width:19px;height:11px;background:#22aa00;color:#ddffd2;box-shadow:0 0 0 1px #c4f0b4;"></div>
<div class="c" style="left:1080px;top:955px;width:9px;height:11px;background:#055205;color:#ddffd2;box-shadow:0 0 0 1px #c4f0b4;"></div>
<div class="c" style="left:1091px;top:955px;width:7px;height:11px;background:#22aa00;color:#ddffd2;box-shadow:0 0 0 1px #c4f0b4;"></div>
<div class="c" style="left:1059px;top:969px;width:20px;height:11px;background:#c20000;color:#ffd4d4;box-shadow:0 0 0 1px #f4caca;"></div>
<div class="c" style="left:1081px;top:969px;width:8px;height:11px;background:#1c8a0c;color:#ddffd2;box-shadow:0 0 0 1px #c4f0b4;"></div>
<div class="c" style="left:1091px;top:969px;width:7px;height:11px;background:#22aa00;color:#ddffd2;box-shadow:0 0 0 1px #c4f0b4;"></div>
<div class="c" style="left:1104px;top:960px;width:18px;height:20px;background:#055205;color:#ddffd2;box-shadow:0 0 0 1px #c4f0b4;"></div>
<div class="c" style="left:1125px;top:960px;width:9px;height:9px;background:#860000;color:#ffd4d4;box-shadow:0 0 0 1px #f4caca;"></div>
<div class="c" style="left:1137px;top:960px;width:6px;height:9px;background:#055205;color:#ddffd2;box-shadow:0 0 0 1px #c4f0b4;"></div>
<div class="c" style="left:1149px;top:890px;width:32px;height:7px;background:#22aa00;color:#ddffd2;box-shadow:0 0 0 1px #c4f0b4;"></div>
<div class="c" style="left:1184px;top:890px;width:12px;height:7px;background:#1c8a0c;color:#ddffd2;box-shadow:0 0 0 1px #c4f0b4;"></div>
<div class="c" style="left:1203px;top:890px;width:43px;height:7px;background:#c20000;color:#ffd4d4;box-shadow:0 0 0 1px #f4caca;"></div>
<div class="c" style="left:1248px;top:890px;width:2px;height:7px;background:#4a0000;color:#ffd4d4;box-shadow:0 0 0 1px #f4caca;"></div>
<div class="c" style="left:1149px;top:932px;width:30px;height:12px;background:#4a0000;color:#ffd4d4;box-shadow:0 0 0 1px #f4caca;"></div>
<svg style="position:absolute;left:0;top:0" width="1280" height="1008">
<text x="1056" y="991" text-anchor="middle" font-family="Liberation Sans, sans-serif" font-weight="bold" font-size="21" fill="#dfe8ff" stroke="#fff" stroke-width="9" stroke-linejoin="round" paint-order="stroke" textLength="170" lengthAdjust="spacingAndGlyphs">پایگاه خبری تحلیلی</text>
<text x="1056" y="991" text-anchor="middle" font-family="Liberation Sans, sans-serif" font-weight="bold" font-size="21" fill="#dfe8ff" stroke="#2b45a0" stroke-width="6" stroke-linejoin="round" paint-order="stroke" textLength="170" lengthAdjust="spacingAndGlyphs">پایگاه خبری تحلیلی</text>
<circle cx="1192.5" cy="951" r="14.2" fill="#f7e300"/>
<path d="M1173.59 979.50 L1172.91 999.00" stroke="#1d3b7e" stroke-width="15.0" fill="none"/>
<path d="M1237.00 979.50 L1237.00 999.00" stroke="#1d3b7e" stroke-width="16.0" fill="none"/>
<path d="M1181 976 Q1201 977 1215 957" stroke="#1d3b7e" stroke-width="16.0" fill="none"/>
<path d="M1218.84 957.64 L1204.16 998.86" stroke="#1d3b7e" stroke-width="14.5" fill="none"/>
<path d="M1254.42 963.67 L1240.58 998.83" stroke="#1d3b7e" stroke-width="11.0" fill="none"/>
<path d="M1261.98 966.20 L1248.02 998.80" stroke="#1d3b7e" stroke-width="11.0" fill="none"/>
<circle cx="1173.0" cy="970.5" r="17.7" fill="#1d3b7e"/>
<circle cx="1234.5" cy="972.5" r="17.7" fill="#1d3b7e"/>
<circle cx="1221.0" cy="952.5" r="9.5" fill="#1d3b7e"/>
<path d="M1173.5 982 L1173 996.5" stroke="#d3e1f7" stroke-width="10.0" fill="none"/>
<path d="M1237 982 L1237 996.5" stroke="#d3e1f7" stroke-width="11.0" fill="none"/>
<path d="M1181 976 Q1201 977 1215 957" stroke="#d3e1f7" stroke-width="11.0" fill="none"/>
<path d="M1218 960 L1205 996.5" stroke="#d3e1f7" stroke-width="9.5" fill="none"/>
<path d="M1253.5 966 L1241.5 996.5" stroke="#d3e1f7" stroke-width="6.0" fill="none"/>
<path d="M1261 968.5 L1249 996.5" stroke="#d3e1f7" stroke-width="6.0" fill="none"/>
<circle cx="1173.0" cy="970.5" r="15.2" fill="#d3e1f7"/>
<circle cx="1234.5" cy="972.5" r="15.2" fill="#d3e1f7"/>
<circle cx="1221.0" cy="952.5" r="7.0" fill="#d3e1f7"/>
<circle cx="1173.0" cy="970.0" r="6.0" fill="#e9e4e8" stroke="#1d3b7e" stroke-width="2.4"/>
<circle cx="1234.5" cy="972.0" r="6.0" fill="#e9e4e8" stroke="#1d3b7e" stroke-width="2.4"/>
</svg>
</body></html>
